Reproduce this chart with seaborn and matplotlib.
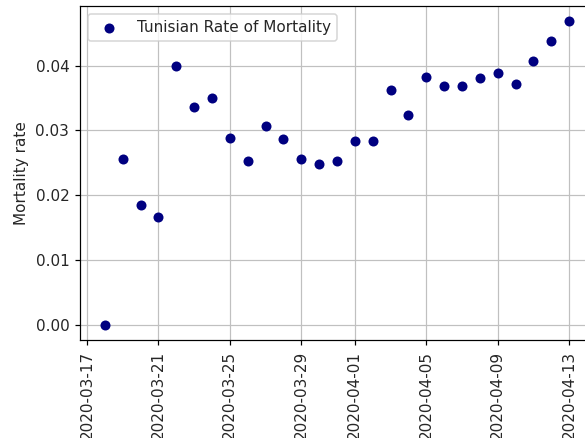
import matplotlib
matplotlib.use("Agg")
import matplotlib.pyplot as plt
import matplotlib.dates as mdates
import seaborn as sns
import pandas as pd

dates = pd.date_range("2020-03-18", "2020-04-13", freq="D")
rates = [0.0, 0.02557, 0.01852, 0.01662, 0.0400, 0.03359, 0.03498, 0.0289,
         0.02531, 0.03076, 0.02866, 0.02557, 0.02485, 0.02531, 0.0284, 0.0284,
         0.03622, 0.0324, 0.03832, 0.03693, 0.03693, 0.03812, 0.03889, 0.03714,
         0.04074, 0.04383, 0.04687]
series_name = "Tunisian Rate of Mortality"

df = pd.DataFrame({"date": dates, "rate": rates})

plt.rcParams["font.family"] = ["DejaVu Sans"]
plt.rcParams["font.size"] = 10
plt.rcParams["text.color"] = "#262626"
plt.rcParams["axes.labelcolor"] = "#262626"
plt.rcParams["xtick.labelcolor"] = "#262626"
plt.rcParams["ytick.labelcolor"] = "#262626"

DPI = 110
W, H = 585, 438
fig = plt.figure(figsize=(W / DPI, H / DPI), dpi=DPI)
left, right, top, bottom = 80, 594, 6, 340
ax = fig.add_axes([left / W, (H - bottom) / H, (right - left) / W, (bottom - top) / H])

sns.scatterplot(data=df, x="date", y="rate", ax=ax, color="#000080", s=43,
                linewidth=0, label=series_name, zorder=3)

ax.margins(x=0.0535, y=0.05)
ax.xaxis.set_major_locator(mdates.DayLocator(bymonthday=[1, 5, 9, 13, 17, 21, 25, 29]))
ax.xaxis.set_major_formatter(mdates.DateFormatter("%Y-%m-%d"))
plt.setp(ax.get_xticklabels(), rotation=90)
ax.set_xlabel("")
ax.set_ylabel("Mortality rate")
ax.grid(True, color="#c0c0c0", linewidth=0.8)
ax.set_axisbelow(True)
ax.legend(loc="upper left")

fig.savefig("out.png", dpi=DPI)
